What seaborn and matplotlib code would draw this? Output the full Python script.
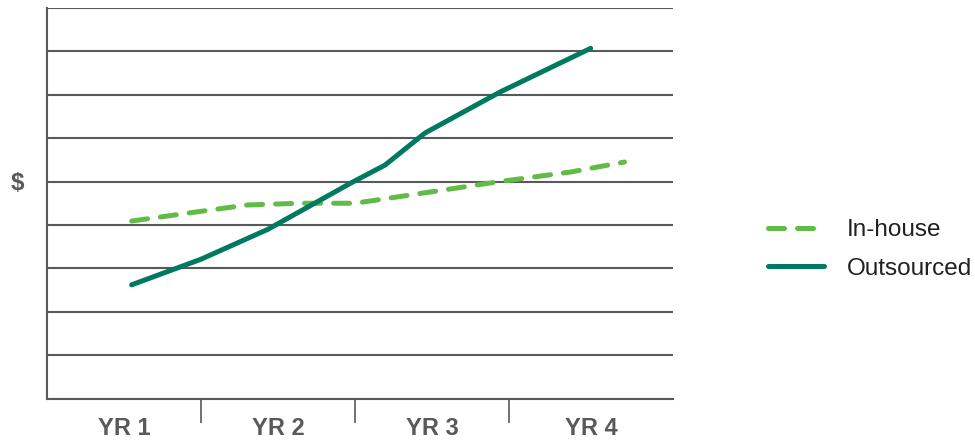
import matplotlib
matplotlib.use("Agg")
import matplotlib.pyplot as plt
import seaborn as sns
import pandas as pd
import numpy as np

categories = ["YR 1", "YR 2", "YR 3", "YR 4"]

inhouse_x = [0.55, 0.93, 1.30, 1.64, 2.00, 2.49, 2.92, 3.40, 3.75]
inhouse_y = [4.09, 4.28, 4.46, 4.50, 4.50, 4.76, 4.99, 5.22, 5.45]

outsourced_x = [0.55, 1.00, 1.435, 1.97, 2.195, 2.455, 2.94, 3.53]
outsourced_y = [2.62, 3.21, 3.90, 4.96, 5.38, 6.12, 7.06, 8.07]

series_names = ["In-house", "Outsourced"]
colors = {"In-house": "#62BB46", "Outsourced": "#007A5E"}

df = pd.concat([
    pd.DataFrame({"x": inhouse_x, "y": inhouse_y, "series": "In-house"}),
    pd.DataFrame({"x": outsourced_x, "y": outsourced_y, "series": "Outsourced"}),
], ignore_index=True)

sns.set_theme(style="white")
plt.rcParams["font.family"] = ["Liberation Sans", "DejaVu Sans"]

fig = plt.figure(figsize=(9.75, 4.41), dpi=100)
ax = fig.add_axes([47 / 975, 1 - 398.5 / 441, (673 - 47) / 975, (398.5 - 8) / 441])

gray = "#58595B"
xmax = (673 - 47) / 154.0

sns.lineplot(data=df, x="x", y="y", hue="series", style="series",
             hue_order=series_names, style_order=series_names,
             palette=colors, dashes={"In-house": (3.2, 2.6), "Outsourced": ""},
             estimator=None, sort=False, linewidth=3.6, ax=ax, legend=True)
for ln in ax.get_lines():
    ln.set_solid_capstyle("round")
    ln.set_dash_capstyle("round")

ax.set_xlim(0, xmax)
ax.set_ylim(0, 9)
ax.set_yticks(np.arange(0, 10))
ax.yaxis.grid(True, color=gray, linewidth=1.5)
ax.xaxis.grid(False)
ax.set_axisbelow(True)
ax.tick_params(axis="y", left=False, labelleft=False)

for s in ["top", "right"]:
    ax.spines[s].set_visible(False)
ax.spines["left"].set_color(gray)
ax.spines["left"].set_linewidth(1.5)
ax.spines["bottom"].set_color(gray)
ax.spines["bottom"].set_linewidth(1.5)

centers = [0.5, 1.5, 2.5, (3 + xmax) / 2]
ax.set_xticks([1, 2, 3])
ax.set_xticklabels([])
ax.tick_params(axis="x", which="major", bottom=True, length=17, width=1.2, color=gray, direction="out")
ax.set_xticks(centers, minor=True)
ax.set_xticklabels(categories, minor=True, fontsize=17, fontweight="bold", color=gray)
ax.tick_params(axis="x", which="minor", bottom=False, length=0, pad=13)
ax.set_xlabel("")
ax.set_ylabel("")

fig.text(17 / 975, 1 - 183 / 441, "$", fontsize=17.5, fontweight="bold", color=gray,
         ha="center", va="center")

handles, labels = ax.get_legend_handles_labels()
ax.legend(handles, labels, loc="center left", bbox_to_anchor=(768 / 975, 1 - 249.5 / 441),
          bbox_transform=fig.transFigure, frameon=False, fontsize=17.5,
          handlelength=2.3, handletextpad=0.95, labelspacing=0.68, borderaxespad=0, borderpad=0)
for t in ax.get_legend().get_texts():
    t.set_color("#231F20")

fig.savefig("out.png", dpi=100)
